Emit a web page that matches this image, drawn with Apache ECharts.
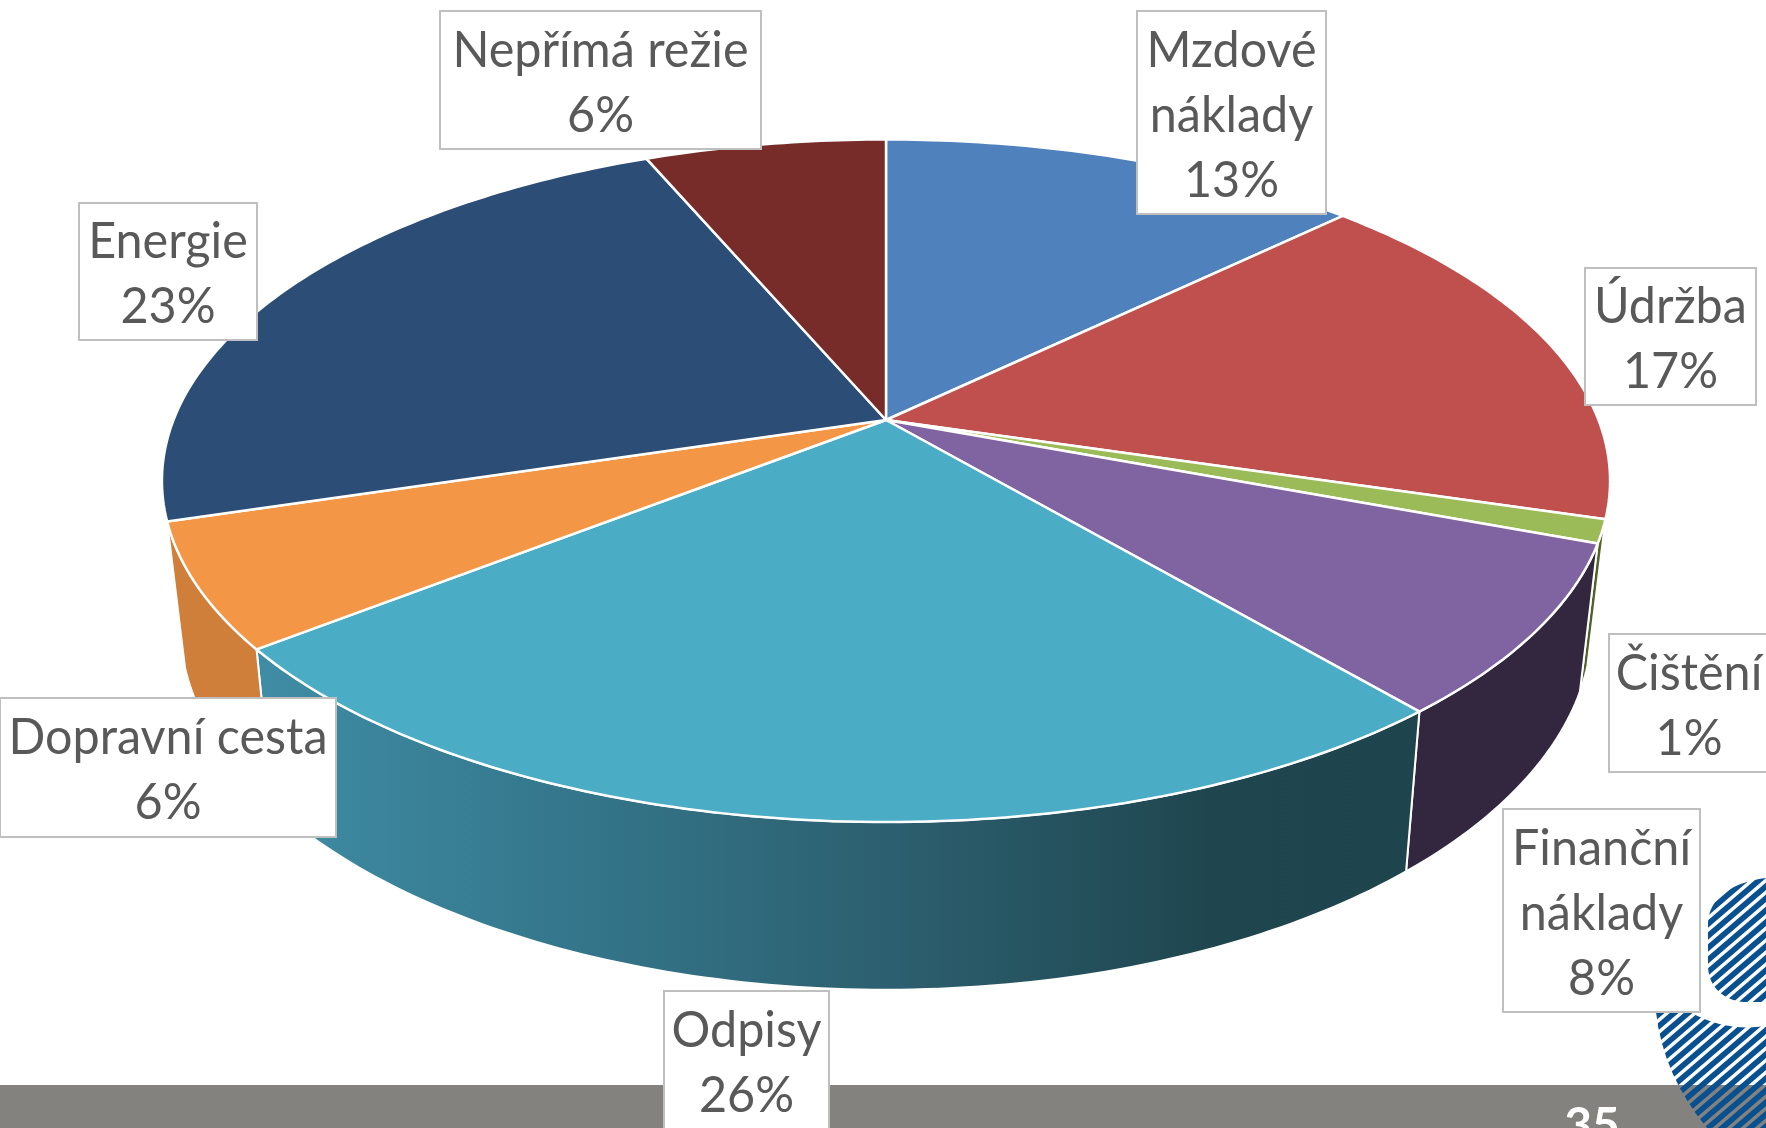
<!DOCTYPE html>
<html><head><meta charset="utf-8">
<style>html,body{margin:0;padding:0;background:#fff}#c{width:1766px;height:1128px}</style>
<script src="https://cdn.jsdelivr.net/npm/echarts@6/dist/echarts.min.js"></script>
</head><body><div id="c"></div>
<script>
// ---- data ----
const categories = ['Mzdové\nnáklady','Údržba','Čištění','Finanční\nnáklady','Odpisy','Dopravní cesta','Energie','Nepřímá režie'];
const shares = [12.8,16.8,1.1,8.1,25.6,5.9,23.3,6.4];
const pageNumber = '35';

// ---- styling ----
const topColors  = ['#4F81BD','#C0504D','#9BBB59','#8064A2','#4BACC6','#F39645','#2C4D75','#772C2A'];
const wallColors = [null,null,'#4F6228','#33273F','gradient','#CF7F39',null,null];
const labelBoxes = [[1137,11,1326,214],[1585,268,1756,405],[1609,634,1769,772],[1503,809,1700,1012],
                    [664,991,829,1129],[0,698,336,837],[79,203,257,340],[440,11,761,149]];

// ---- perspective of the disc (unit circle -> screen) ----
const PC = {cx:886, cy:420, A:712.5, B:330.5, k:0.178};
const WALL = {sx:0.975, sy:1.07, dy:139.5};
const POLAR = {x:400, y:400, r:100};
function project(api, r, pct){
  const p = api.coord([r, pct]);
  const u = (p[0]-POLAR.x)/POLAR.r, v = -(p[1]-POLAR.y)/POLAR.r;
  const w = 1 + PC.k*v;
  return [PC.cx + PC.A*u/w, PC.cy - PC.B*v/w];
}
function lower(p){ return [PC.cx + (p[0]-PC.cx)*WALL.sx, PC.cy + WALL.dy + (p[1]-PC.cy)*WALL.sy]; }
function rim(api, a, b){
  const out=[], n=Math.max(2,Math.ceil((b-a)/0.25));
  for(let i=0;i<=n;i++) out.push(project(api,1,a+(b-a)*i/n));
  return out;
}
const total = shares.reduce((s,v)=>s+v,0);
let acc = 0;
const sliceData = shares.map(v=>{const a=acc; acc+=v; return [1,a/total*100,acc/total*100];});

const wallGradient = new echarts.graphic.LinearGradient(0,0,1,0,[
  {offset:0,color:'#3F8DA5'},{offset:0.25,color:'#35788D'},{offset:0.55,color:'#2C5F6F'},
  {offset:0.82,color:'#1F464F'},{offset:1,color:'#1E444D'}]);

function renderWall(params, api){
  const i=params.dataIndex;
  if(!wallColors[i]) return null;   // rear walls are hidden behind the disc
  const top=rim(api,api.value(1),api.value(2));
  const pts=top.concat(top.slice().reverse().map(lower));
  return {type:'polygon',shape:{points:pts},
    style:{fill:wallColors[i]==='gradient'?wallGradient:wallColors[i],stroke:'#fff',lineWidth:2,lineJoin:'round'}};
}
function renderTop(params, api){
  const i=params.dataIndex;
  const pts=[project(api,0,0)].concat(rim(api,api.value(1),api.value(2)));
  return {type:'polygon',shape:{points:pts},
    style:{fill:topColors[i],stroke:'#fff',lineWidth:2.5,lineJoin:'round'}};
}

// stripe tile for the logo
function stripeTile(){
  const w=14,h=12, c=document.createElement('canvas'); c.width=w; c.height=h;
  const g=c.getContext('2d'); g.strokeStyle='#08508F'; g.lineWidth=5.6;
  [[-w,h,w,-h],[-w,2*h,2*w,-h],[0,2*h,2*w,0]].forEach(l=>{g.beginPath();g.moveTo(l[0],l[1]);g.lineTo(l[2],l[3]);g.stroke();});
  return c;
}
const tile = stripeTile();
const logoPaths = ['M1766,878 C1735,882 1708,896 1708,925 L1708,965 C1708,990 1728,1003 1750,1002 L1766,1002 Z',
  'M1656,1012 L1690,1012 Q1725,1032 1766,1026 L1766,1128 L1707,1128 Q1663,1075 1656,1012 Z'];
function renderLogo(){
  return {type:'group',children:logoPaths.map(d=>({type:'path',shape:{pathData:d},
    style:{fill:{image:tile,repeat:'repeat'}}}))};
}

const graphics = [
  {type:'rect',z:1,shape:{x:0,y:1085,width:1766,height:43},style:{fill:'#84827F'}},
  {type:'text',z:7,x:1592,y:1151,style:{text:pageNumber,align:'center',verticalAlign:'bottom',
    font:'bold 48px Lato',fill:'#fff'}}
];
categories.forEach((name,i)=>{
  const b=labelBoxes[i];
  graphics.push({type:'rect',z:10,shape:{x:b[0],y:b[1],width:b[2]-b[0],height:b[3]-b[1]},
    style:{fill:'#fff',stroke:'#BFBFBF',lineWidth:2}});
  graphics.push({type:'text',z:11,x:(b[0]+b[2])/2,y:(b[1]+b[3])/2+3,scaleX:0.97,style:{
    text:name+'\n'+Math.round(shares[i]/total*100)+'%',
    align:'center',verticalAlign:'middle',fontFamily:'Lato',fontSize:50,lineHeight:65,fill:'#595959'}});
});

const chart = echarts.init(document.getElementById('c'),null,{renderer:'canvas'});
chart.setOption({
  animation:false,
  backgroundColor:'#fff',
  polar:{center:[POLAR.x,POLAR.y],radius:POLAR.r},
  angleAxis:{type:'value',min:0,max:100,startAngle:90,clockwise:true,show:false},
  radiusAxis:{type:'value',min:0,max:1,show:false},
  graphic:{elements:graphics},
  series:[
    {type:'custom',coordinateSystem:'polar',z:2,renderItem:renderWall,data:sliceData,encode:{radius:0,angle:1},silent:true},
    {type:'custom',coordinateSystem:'polar',z:3,renderItem:renderTop,data:sliceData,encode:{radius:0,angle:1},silent:true},
    {type:'custom',coordinateSystem:'none',z:4,renderItem:renderLogo,data:[[0]],silent:true}
  ]
});
</script></body></html>
